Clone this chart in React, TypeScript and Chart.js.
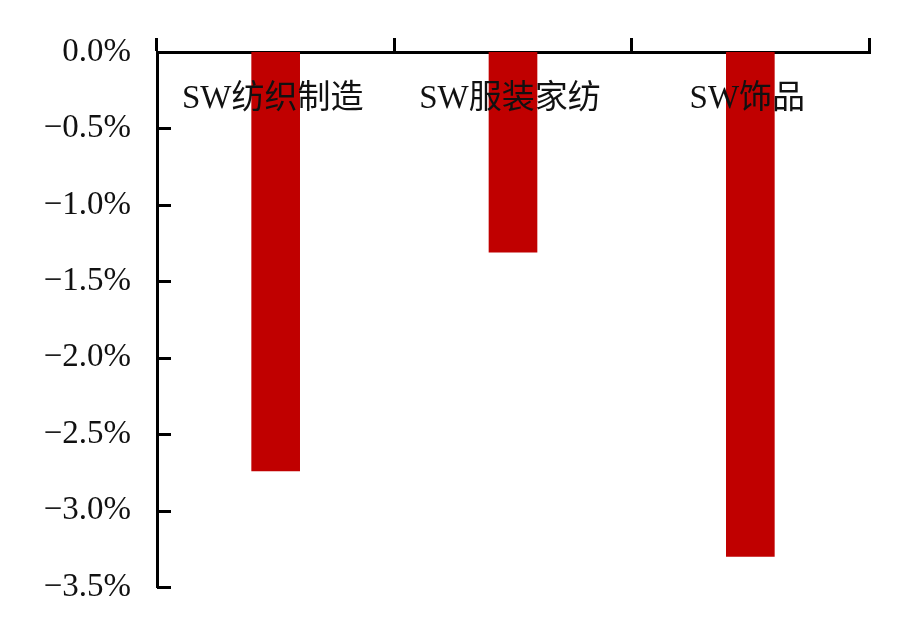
import React, { useEffect, useRef } from "react";
import { Chart, registerables } from "chart.js";

Chart.register(...registerables);

const categories = ["SW纺织制造", "SW服装家纺", "SW饰品"];
const changes = [-2.74, -1.31, -3.3];
const yMin = -3.5;
const yMax = 0;
const yStep = 0.5;

const fmt = (v: number) => {
  const s = Math.abs(v).toFixed(1) + "%";
  return v < -1e-9 ? "\u2212" + s : s;
};

const labelPlugin = {
  id: "innerCategoryLabels",
  afterDatasetsDraw(chart: any) {
    const { ctx, chartArea, scales } = chart;
    const x = scales.x;
    const y = scales.y;
    ctx.save();
    // inward tick marks on the value axis
    ctx.strokeStyle = "#000";
    ctx.lineWidth = 3;
    y.ticks.forEach((t: any) => {
      const py = Math.round(y.getPixelForValue(t.value)) + 0.5;
      ctx.beginPath();
      ctx.moveTo(chartArea.left, py);
      ctx.lineTo(chartArea.left + 14, py);
      ctx.stroke();
    });
    ctx.fillStyle = "#111";
    ctx.font = '33px "Liberation Serif", "Noto Sans CJK SC", serif';
    ctx.textAlign = "center";
    ctx.textBaseline = "middle";
    categories.forEach((c, i) => {
      ctx.fillText(c, x.getPixelForValue(i) - 3, chartArea.top + 47);
    });
    ctx.restore();
  },
};

export default function App() {
  const ref = useRef<HTMLCanvasElement | null>(null);
  useEffect(() => {
    if (!ref.current) return;
    const chart = new Chart(ref.current, {
      type: "bar",
      data: {
        labels: categories,
        datasets: [
          {
            data: changes,
            backgroundColor: "#C00000",
            borderWidth: 0,
            barThickness: 48,
          },
        ],
      },
      plugins: [labelPlugin],
      options: {
        animation: false,
        responsive: true,
        maintainAspectRatio: false,
        devicePixelRatio: 1,
        layout: { padding: { left: 0, top: 0, right: 50, bottom: 52 } },
        plugins: { legend: { display: false }, tooltip: { enabled: false } },
        scales: {
          x: {
            position: "top",
            grid: {
              display: true,
              drawOnChartArea: false,
              color: "#000",
              lineWidth: 3,
              tickLength: 14,
              offset: true,
            },
            border: { display: true, color: "#000", width: 3 },
            ticks: { display: false },
            afterFit: (s: any) => {
              s.height = 52;
              s.paddingLeft = 0;
              s.paddingRight = 0;
            },
          },
          y: {
            min: yMin,
            max: yMax,
            grid: {
              display: false,
              drawOnChartArea: false,
              drawTicks: false,
            },
            border: { display: true, color: "#000", width: 3 },
            ticks: {
              stepSize: yStep,
              padding: 26,
              color: "#111",
              font: { family: '"Liberation Serif", serif', size: 33 },
              callback: (v: any) => fmt(Number(v)),
            },
            afterFit: (s: any) => {
              s.width = 157;
              s.paddingTop = 0;
              s.paddingBottom = 0;
            },
          },
        },
      },
    });
    return () => chart.destroy();
  }, []);
  return (
    <div style={{ position: "fixed", left: 0, top: 0, width: 919, height: 639, background: "#fff" }}>
      <canvas ref={ref} />
    </div>
  );
}
